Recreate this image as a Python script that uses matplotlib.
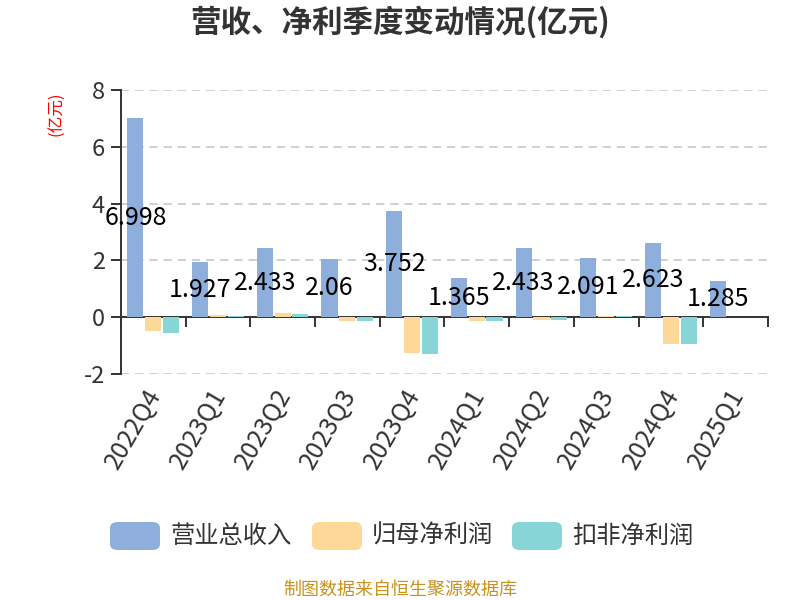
import matplotlib
matplotlib.use("Agg")
import matplotlib.pyplot as plt
import matplotlib.transforms as mtransforms
from matplotlib.patches import FancyBboxPatch
import numpy as np

plt.rcParams['font.family'] = ['Noto Sans CJK SC', 'DejaVu Sans']

categories = ['2022Q4', '2023Q1', '2023Q2', '2023Q3', '2023Q4',
              '2024Q1', '2024Q2', '2024Q3', '2024Q4', '2025Q1']
revenue = [6.998, 1.927, 2.433, 2.06, 3.752, 1.365, 2.433, 2.091, 2.623, 1.285]
net_profit = [-0.50, 0.06, 0.13, -0.14, -1.27, -0.12, -0.09, 0.035, -0.94, 0.02]
deducted_profit = [-0.54, 0.05, 0.12, -0.15, -1.30, -0.13, -0.11, 0.035, -0.96, 0.02]
revenue_labels = ['6.998', '1.927', '2.433', '2.06', '3.752', '1.365', '2.433', '2.091', '2.623', '1.285']
series_names = ['营业总收入', '归母净利润', '扣非净利润']
colors = ['#8eaedb', '#fed899', '#88d5d8']

fig = plt.figure(figsize=(8, 6), dpi=100)
ax = fig.add_axes([0.151, 0.3767, 0.809, 0.4733])

x = np.arange(len(categories))
w = 0.25
off = 0.275
ax.bar(x - off, revenue, w, color=colors[0], zorder=3)
ax.bar(x, net_profit, w, color=colors[1], zorder=3)
ax.bar(x + off, deducted_profit, w, color=colors[2], zorder=3)

for xi, v, lab in zip(x, revenue, revenue_labels):
    ax.text(xi - off, v / 2, lab, ha='center', va='center', fontsize=18,
            color='black', zorder=5)

ax.set_xlim(-0.5, len(categories) - 0.5)
ax.set_ylim(-2, 8)
ax.set_yticks([-2, 0, 2, 4, 6, 8])
ax.set_yticklabels(['-2', '0', '2', '4', '6', '8'], fontsize=17, color='#333333')
for yv in [-2, 2, 4, 6, 8]:
    ax.axhline(yv, color='#c8c8c8', lw=1.2, ls=(0, (5, 3.5)), zorder=1)

for s in ['top', 'right']:
    ax.spines[s].set_visible(False)
ax.spines['bottom'].set_position(('data', 0))
ax.spines['bottom'].set_color('#333333')
ax.spines['bottom'].set_linewidth(1.4)
ax.spines['left'].set_color('#333333')
ax.spines['left'].set_linewidth(1.4)
ax.tick_params(axis='y', length=7.5, width=1.4, color='#333333', pad=4)
ax.set_xticks(np.arange(-0.5, len(categories), 1.0))
ax.set_xticklabels([])
ax.tick_params(axis='x', length=7.5, width=1.4, color='#333333', direction='out')

trans = mtransforms.blended_transform_factory(ax.transData, ax.transAxes)
for xi, c in zip(x, categories):
    ax.text(xi - 0.13, -0.035, c, transform=trans, rotation=60, ha='right', va='top',
            rotation_mode='anchor', fontsize=18, color='#333333')

ax.text(-0.099, 0.915, '(亿元)', transform=ax.transAxes, rotation=90, ha='center',
        va='center', fontsize=12, color='red')

fig.text(0.5, 0.962, '营收、净利季度变动情况(亿元)', ha='center', va='center',
         fontsize=22, fontweight='bold', color='#333333')

# legend
items = [(0.1375, 0.2125, series_names[0], colors[0]),
         (0.39, 0.465, series_names[1], colors[1]),
         (0.64, 0.715, series_names[2], colors[2])]
for px, tx, name, col in items:
    p = FancyBboxPatch((px, 0.0833), 0.0625, 0.0467,
                       boxstyle='round,pad=0,rounding_size=0.01',
                       transform=fig.transFigure, facecolor=col, edgecolor='none')
    fig.patches.append(p)
    fig.text(tx, 0.1067, name, ha='left', va='center', fontsize=17.5,
             color='#333333')

fig.text(0.5, 0.0167, '制图数据来自恒生聚源数据库', ha='center', va='center',
         fontsize=13, color='#c8921e')

fig.savefig('out.png', dpi=100)
